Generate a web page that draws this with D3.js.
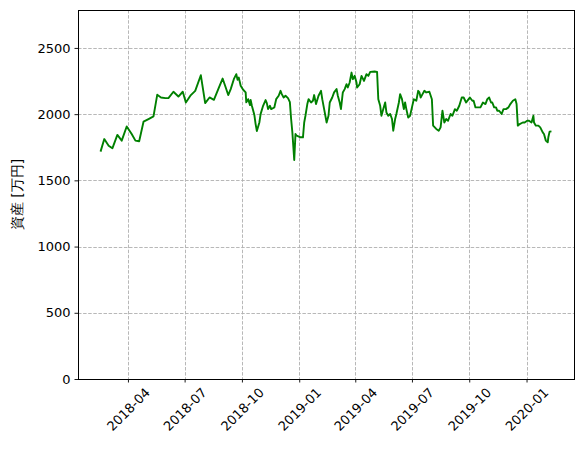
<!DOCTYPE html>
<html>
<head>
<meta charset="utf-8">
<script src="https://cdn.jsdelivr.net/npm/d3@7"></script>
<style>
  body { margin: 0; background: #fff; }
  text { font-family: "DejaVu Sans", sans-serif; }
</style>
</head>
<body>
<div id="chart"></div>
<script>
var width = 583, height = 449;
var margin = {top: 10, right: 9, bottom: 70, left: 78};

// asset values (万円)
var dates = [
  "2018-02-16","2018-02-22","2018-03-01","2018-03-07","2018-03-15","2018-03-22","2018-03-30","2018-04-07",
  "2018-04-13","2018-04-19","2018-04-26","2018-05-04","2018-05-12","2018-05-18","2018-05-24","2018-05-31",
  "2018-06-05","2018-06-13","2018-06-21","2018-06-28","2018-07-03","2018-07-11","2018-07-18","2018-07-27",
  "2018-08-03","2018-08-10","2018-08-17","2018-08-25","2018-08-31","2018-09-05","2018-09-09","2018-09-13",
  "2018-09-18","2018-09-22","2018-09-24","2018-09-26","2018-09-29","2018-10-03","2018-10-07","2018-10-08",
  "2018-10-11","2018-10-14","2018-10-15","2018-10-17","2018-10-21","2018-10-23","2018-10-25","2018-10-29",
  "2018-10-31","2018-11-04","2018-11-08","2018-11-10","2018-11-12","2018-11-15","2018-11-17","2018-11-22",
  "2018-11-25","2018-11-29","2018-12-02","2018-12-04","2018-12-07","2018-12-10","2018-12-14","2018-12-17",
  "2018-12-19","2018-12-21","2018-12-24","2018-12-26","2018-12-28","2019-01-03","2019-01-07","2019-01-09",
  "2019-01-11","2019-01-14","2019-01-16","2019-01-20","2019-01-23","2019-01-25","2019-01-28","2019-02-01",
  "2019-02-05","2019-02-07","2019-02-10","2019-02-14","2019-02-17","2019-02-19","2019-02-23","2019-02-26",
  "2019-03-02","2019-03-04","2019-03-07","2019-03-09","2019-03-12","2019-03-15","2019-03-18","2019-03-20",
  "2019-03-23","2019-03-26","2019-03-28","2019-03-31","2019-04-03","2019-04-04","2019-04-08","2019-04-11",
  "2019-04-15","2019-04-19","2019-04-22","2019-04-25","2019-05-02","2019-05-06","2019-05-08","2019-05-11",
  "2019-05-13","2019-05-16","2019-05-19","2019-05-21","2019-05-24","2019-05-27","2019-05-30","2019-06-01",
  "2019-06-04","2019-06-06","2019-06-10","2019-06-12","2019-06-15","2019-06-18","2019-06-20","2019-06-22",
  "2019-06-25","2019-06-28","2019-07-01","2019-07-04","2019-07-08","2019-07-11","2019-07-13","2019-07-15",
  "2019-07-18","2019-07-21","2019-07-24","2019-07-29","2019-08-02","2019-08-04","2019-08-09","2019-08-13",
  "2019-08-16","2019-08-19","2019-08-22","2019-08-25","2019-08-28","2019-09-01","2019-09-04","2019-09-08",
  "2019-09-11","2019-09-15","2019-09-19","2019-09-22","2019-09-26","2019-09-30","2019-10-02","2019-10-06",
  "2019-10-08","2019-10-11","2019-10-15","2019-10-19","2019-10-23","2019-10-27","2019-10-30","2019-11-02",
  "2019-11-05","2019-11-07","2019-11-10","2019-11-13","2019-11-15","2019-11-18","2019-11-22","2019-11-25",
  "2019-11-29","2019-12-03","2019-12-06","2019-12-10","2019-12-14","2019-12-16","2019-12-18","2019-12-21",
  "2019-12-26","2019-12-29","2020-01-02","2020-01-05","2020-01-09","2020-01-12","2020-01-13","2020-01-16",
  "2020-01-20","2020-01-23","2020-01-27","2020-01-29","2020-02-01","2020-02-04","2020-02-05","2020-02-07",
  "2020-02-10"
];
var assets = [
  1717,1812,1762,1742,1843,1800,1907,1850,
  1800,1795,1943,1963,1983,2146,2126,2121,
  2121,2169,2133,2169,2088,2144,2176,2294,
  2083,2126,2108,2201,2269,2201,2144,2189,
  2264,2302,2259,2276,2214,2184,2164,2089,
  2113,2068,2108,2063,1993,1925,1873,1937,
  2000,2063,2106,2083,2038,2063,2038,2050,
  2113,2139,2176,2151,2126,2139,2121,2090,
  1963,1862,1654,1850,1837,1825,1825,1937,
  1988,2076,2113,2088,2101,2144,2076,2139,
  2176,2113,2038,1937,1988,2088,2126,2164,
  2189,2139,2088,2038,2164,2189,2226,2201,
  2239,2314,2264,2289,2239,2201,2226,2289,
  2251,2302,2289,2319,2322,2319,2113,2063,
  1988,2038,2088,2013,1988,2001,1963,1875,
  1963,2001,2088,2151,2113,2038,2088,2038,
  1975,1988,2051,2113,2101,2176,2164,2126,
  2151,2176,2164,2169,2113,1913,1888,1875,
  1900,2026,1937,1963,1950,2001,1988,2038,
  2026,2063,2126,2126,2088,2113,2126,2101,
  2101,2051,2051,2051,2088,2076,2113,2126,
  2088,2088,2051,2051,2026,2026,2001,2038,
  2038,2051,2076,2101,2113,2076,1913,1925,
  1937,1937,1950,1950,1937,1988,1937,1913,
  1913,1900,1862,1850,1800,1787,1825,1868,
  1870
];
var yTicks = [0, 500, 1000, 1500, 2000, 2500];
var yLabel = "資産 [万円]";

var parseDate = d3.timeParse("%Y-%m-%d");
var data = dates.map(function(d, i) { return {date: parseDate(d), value: assets[i]}; });

var svg = d3.select("#chart").append("svg").attr("width", width).attr("height", height);

var innerW = width - margin.left - margin.right,
    innerH = height - margin.top - margin.bottom;

// matplotlib style 5% padding on the dates, y from 0 to 1.2 x max
var ext = d3.extent(data, function(d) { return d.date; });
var pad = (ext[1] - ext[0]) * 0.05;
var x = d3.scaleTime()
    .domain([new Date(+ext[0] - pad), new Date(+ext[1] + pad)])
    .range([0, innerW]);
var y = d3.scaleLinear()
    .domain([0, d3.max(assets) * 1.2])
    .range([innerH, 0]);

var g = svg.append("g").attr("transform", "translate(" + margin.left + "," + margin.top + ")");

var xTicks = x.ticks(d3.timeMonth.every(3)).filter(function(d) { return x(d) > 0 && x(d) < innerW; });

// grid
g.append("g").selectAll("line").data(xTicks).enter().append("line")
    .attr("x1", function(d) { return Math.round(x(d)) + 0.5; })
    .attr("x2", function(d) { return Math.round(x(d)) + 0.5; })
    .attr("y1", 0).attr("y2", innerH)
    .attr("stroke", "#b0b0b0").attr("stroke-width", 0.9).attr("stroke-dasharray", "3.5,1.6");
g.append("g").selectAll("line").data(yTicks).enter().append("line")
    .attr("y1", function(d) { return Math.round(y(d)) + 0.5; })
    .attr("y2", function(d) { return Math.round(y(d)) + 0.5; })
    .attr("x1", 0).attr("x2", innerW)
    .attr("stroke", "#b0b0b0").attr("stroke-width", 0.9).attr("stroke-dasharray", "3.5,1.6");

// line
var line = d3.line()
    .x(function(d) { return x(d.date); })
    .y(function(d) { return y(d.value); });
g.append("path").datum(data)
    .attr("d", line)
    .attr("fill", "none")
    .attr("stroke", "#008000")
    .attr("stroke-width", 1.9)
    .attr("stroke-linejoin", "round");

// frame
g.append("rect").attr("x", 0.5).attr("y", 0.5).attr("width", innerW).attr("height", innerH)
    .attr("fill", "none").attr("stroke", "#000").attr("stroke-width", 1);

// axes
var yAxis = g.append("g").call(d3.axisLeft(y).tickValues(yTicks).tickFormat(d3.format("d")).tickSize(3.5).tickPadding(4));
var xAxis = g.append("g").attr("transform", "translate(0," + innerH + ")")
    .call(d3.axisBottom(x).tickValues(xTicks).tickFormat(d3.timeFormat("%Y-%m")).tickSize(3.5).tickPadding(7));

[xAxis, yAxis].forEach(function(a) {
  a.select(".domain").remove();
  a.selectAll(".tick line").attr("stroke", "#000").attr("stroke-width", 0.9);
  a.selectAll("text").attr("font-family", "'DejaVu Sans', sans-serif")
      .attr("font-size", 13).attr("fill", "#000");
});

// rotate x labels 45deg, bounding box centred under the tick
xAxis.selectAll(".tick text").each(function() {
  var t = d3.select(this);
  t.attr("y", 0).attr("dy", null).attr("text-anchor", "middle").attr("dominant-baseline", "central");
  var b = this.getBBox();
  var off = (b.width + b.height * 0.8) / (2 * Math.SQRT2);
  t.attr("transform", "translate(0," + (7 + off) + ") rotate(-45)");
});

svg.append("text")
    .attr("transform", "translate(17," + (margin.top + innerH / 2) + ") rotate(-90)")
    .attr("text-anchor", "middle")
    .attr("dominant-baseline", "central")
    .attr("font-family", "'Noto Sans CJK JP', sans-serif")
    .attr("font-size", 14)
    .attr("fill", "#000")
    .text(yLabel);
</script>
</body>
</html>
